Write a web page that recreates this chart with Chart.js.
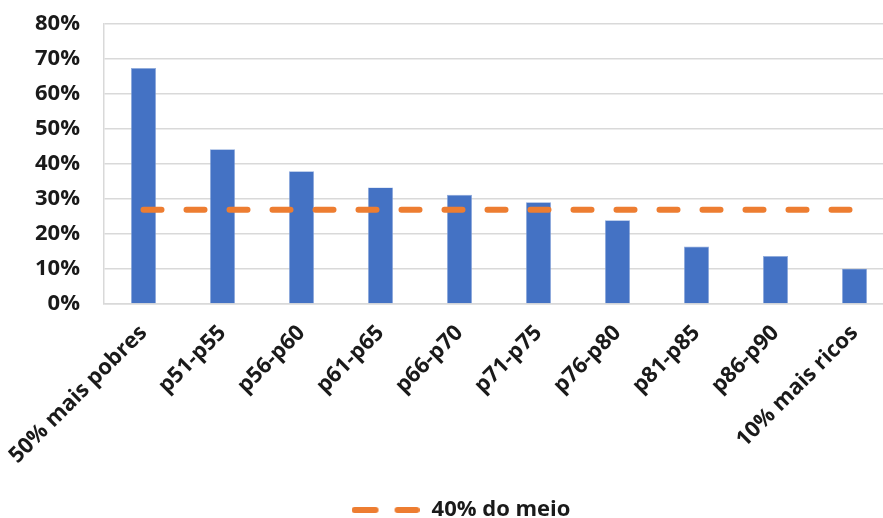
<!DOCTYPE html>
<html>
<head>
<meta charset="utf-8">
<script src="https://cdn.jsdelivr.net/npm/chart.js@4/dist/chart.umd.min.js"></script>
<style>
  html, body { margin: 0; padding: 0; background: #fff; overflow: hidden; }
  #wrap { width: 900px; height: 531px; position: relative; }
</style>
</head>
<body>
<div id="wrap"><canvas id="c"></canvas></div>
<script>
const categories = ['50% mais pobres', 'p51-p55', 'p56-p60', 'p61-p65', 'p66-p70',
                    'p71-p75', 'p76-p80', 'p81-p85', 'p86-p90', '10% mais ricos'];
const groupShare = [67.4, 44.2, 37.9, 33.3, 31.2, 29.1, 23.9, 16.4, 13.7, 10.1];
const middle40 = [26.9, 26.9, 26.9, 26.9, 26.9, 26.9, 26.9, 26.9, 26.9, 26.9];
const yTicks = [0, 10, 20, 30, 40, 50, 60, 70, 80];

const FONT = "'Open Sans', sans-serif";
const TEXT = '#1a1a1a';

// Legend marker: two short rounded orange dashes
function dashMarker() {
  const cv = document.createElement('canvas');
  cv.width = 68; cv.height = 8;
  const g = cv.getContext('2d');
  g.strokeStyle = '#ED7D31';
  g.lineWidth = 6;
  g.lineCap = 'round';
  g.beginPath();
  g.moveTo(3, 4); g.lineTo(24, 4);
  g.moveTo(46, 4); g.lineTo(65, 4);
  g.stroke();
  return cv;
}

new Chart(document.getElementById('c'), {
  data: {
    labels: categories,
    datasets: [
      {
        type: 'line',
        label: '40% do meio',
        data: middle40,
        borderColor: '#ED7D31',
        backgroundColor: '#ED7D31',
        borderWidth: 6,
        borderDash: [18, 25],
        borderCapStyle: 'round',
        pointRadius: 0,
        pointStyle: dashMarker(),
        order: 0
      },
      {
        type: 'bar',
        label: 'grupos',
        data: groupShare,
        backgroundColor: '#4472C4',
        borderColor: '#8FAADC',
        borderWidth: 0.6,
        categoryPercentage: 1,
        barPercentage: 0.316,
        order: 1
      }
    ]
  },
  options: {
    responsive: true,
    maintainAspectRatio: false,
    animation: false,
    layout: { padding: { left: 27, right: 6, top: 24, bottom: 0 } },
    plugins: {
      tooltip: { enabled: false },
      legend: {
        position: 'bottom',
        labels: {
          filter: item => item.text === '40% do meio',
          usePointStyle: true,
          pointStyleWidth: 70,
          font: { family: FONT, size: 22, weight: 'bold' },
          color: TEXT,
          padding: 2
        }
      }
    },
    scales: {
      x: {
        afterFit: axis => { axis.height = 193; axis.paddingLeft = 0; axis.paddingRight = 0; },
        grid: { display: false, drawTicks: false },
        border: { display: true, color: '#d9d9d9', width: 1.5 },
        ticks: {
          minRotation: 45, maxRotation: 45,
          font: { family: FONT, size: 22, weight: 'bold' },
          color: TEXT,
          padding: 16
        }
      },
      y: {
        min: 0, max: 80,
        afterFit: axis => { axis.width = 77; axis.paddingTop = 0; axis.paddingBottom = 0; },
        afterBuildTicks: axis => { axis.ticks = yTicks.map(v => ({ value: v })); },
        grid: { color: '#d9d9d9', lineWidth: 1.5, drawTicks: false },
        border: { display: true, color: '#d9d9d9', width: 1.5 },
        ticks: {
          callback: v => v + '%',
          font: { family: FONT, size: 22, weight: 'bold' },
          color: TEXT,
          padding: 24
        }
      }
    }
  }
});
</script>
</body>
</html>
